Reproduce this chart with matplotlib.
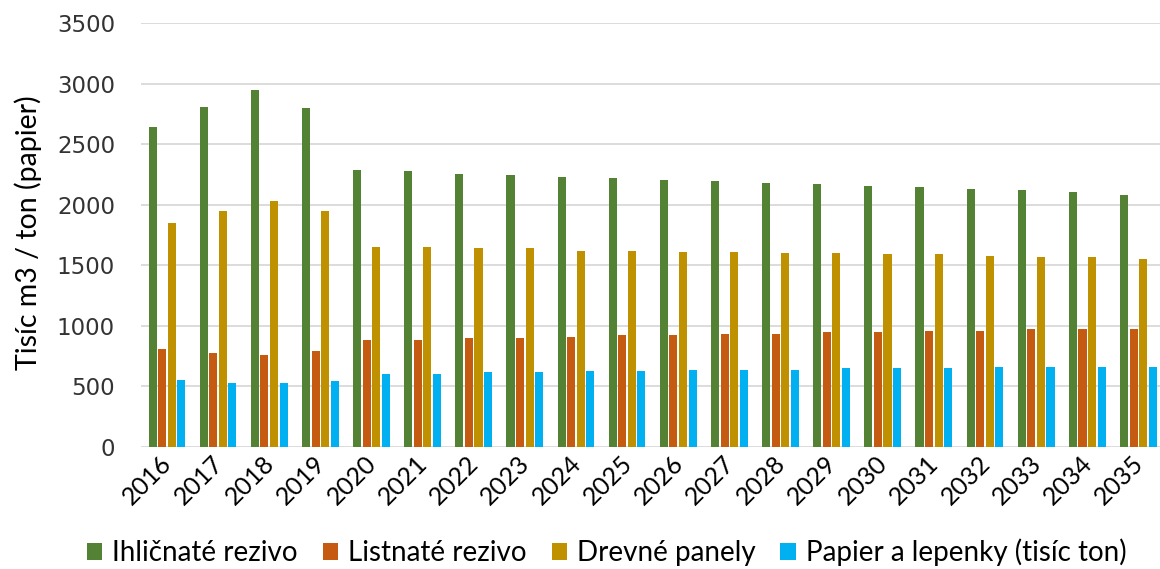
import matplotlib.pyplot as plt
import matplotlib.transforms as mtransforms
import numpy as np

years = [str(y) for y in range(2016, 2036)]

ihlicnate = [2640, 2810, 2945, 2800, 2290, 2280, 2255, 2242, 2231, 2217, 2205, 2193, 2181,
             2167, 2156, 2144, 2131, 2120, 2106, 2080]
listnate = [811, 776, 762, 789, 886, 886, 897, 897, 908, 921, 921, 935, 935,
            946, 946, 957, 957, 971, 971, 971]
panely = [1846, 1945, 2030, 1945, 1648, 1648, 1640, 1640, 1620, 1619, 1608, 1608, 1598,
          1600, 1592, 1592, 1580, 1567, 1567, 1553]
papier = [555, 528, 528, 541, 602, 602, 616, 616, 627, 627, 638, 638, 638,
          652, 652, 652, 663, 663, 663, 663]

series = [
    ('Ihličnaté rezivo', ihlicnate, '#548235'),
    ('Listnaté rezivo', listnate, '#C55A11'),
    ('Drevné panely', panely, '#BF9000'),
    ('Papier a lepenky (tisíc ton)', papier, '#00B0F0'),
]

plt.rcParams['font.family'] = ['Lato', 'DejaVu Sans']

fig = plt.figure(figsize=(11.6, 5.69), dpi=100)
ax = fig.add_axes([0.1219, 0.2144, 0.8815, 0.7452])

x = np.arange(len(years))
step = 0.187
width = 0.158
for i, (name, vals, color) in enumerate(series):
    ax.bar(x + (i - 1.5) * step, vals, width, color=color, label=name, zorder=3)

ax.set_xlim(-0.5, len(years) - 0.5)
ax.set_ylim(0, 3500)
ax.set_yticks(range(0, 3501, 500))
ax.grid(axis='y', color='#D9D9D9', linewidth=1.3, zorder=0)
for s in ax.spines.values():
    s.set_visible(False)
ax.tick_params(length=0)
ax.tick_params(axis='y', labelsize=16.5, labelcolor='#333333', pad=19)
for lbl in ax.get_yticklabels():
    lbl.set_fontfamily(['DejaVu Sans'])

ax.set_xticks(x)
ax.set_xticklabels(years, rotation=45, ha='right', rotation_mode='anchor', fontsize=18)
ax.tick_params(axis='x', pad=3)
# nudge the rotated year labels a little to the left
shift = mtransforms.ScaledTranslation(-5 / 72, 0, fig.dpi_scale_trans)
for lbl in ax.get_xticklabels():
    lbl.set_transform(lbl.get_transform() + shift)

ax.set_ylabel('Tisíc m3 / ton (papier)', fontsize=20.5)
ax.yaxis.set_label_coords(-0.097, 0.505)

ax.legend(loc='center', bbox_to_anchor=(0.455, -0.248), ncol=4, frameon=False,
          fontsize=20, handlelength=0.55, handleheight=0.55, handletextpad=0.36,
          columnspacing=0.9)

plt.savefig('out.png', dpi=100)
